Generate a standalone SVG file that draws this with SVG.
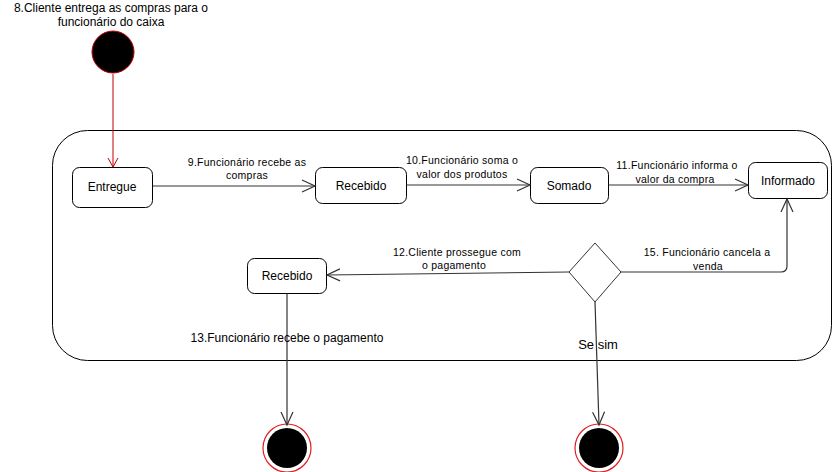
<svg xmlns="http://www.w3.org/2000/svg" width="833" height="472" viewBox="0 0 833 472">
<style>
  text { font-family: "Liberation Sans", Arial, sans-serif; fill: #000; }
  .title { font-size: 12px; text-anchor: middle; }
  .node rect { fill: #fff; stroke: #000; stroke-width: 1; }
  .node text { font-size: 12px; text-anchor: middle; dominant-baseline: central; }
  .lbl { font-size: 10.5px; letter-spacing: 0.25px; text-anchor: middle; }
  .edge { fill: none; stroke: #333; stroke-width: 1.2; }
  .edge-red { fill: none; stroke: #c00000; stroke-width: 1; }
  .start circle { fill: #000; stroke: #c00000; stroke-width: 1; }
  .end .ring { fill: #fff; stroke: #e02020; stroke-width: 1.2; }
  .end .dot { fill: #000; }
</style>
<defs>
  <marker id="arr" markerWidth="16" markerHeight="14" refX="14" refY="7" orient="auto" markerUnits="userSpaceOnUse">
    <path d="M1,1 L14,7 L1,13" fill="none" stroke="#333" stroke-width="1.2"/>
  </marker>
  <marker id="arrRed" markerWidth="12" markerHeight="12" refX="10" refY="6" orient="auto" markerUnits="userSpaceOnUse">
    <path d="M1,1 L10,6 L1,11" fill="none" stroke="#c00000" stroke-width="1"/>
  </marker>
</defs>
<rect width="833" height="472" fill="#fff"/>

<g id="container">
  <rect x="52.5" y="130.5" width="779" height="230" rx="35" ry="35" fill="none" stroke="#000" stroke-width="1"/>
</g>

<g id="start" class="start">
  <text class="title" x="111" y="12">8.Cliente entrega as compras para o</text>
  <text class="title" x="111" y="26">funcionário do caixa</text>
  <circle cx="113" cy="52" r="21"/>
</g>

<g id="n-entregue" class="node">
  <rect x="72.5" y="167.5" width="80" height="40" rx="7"/>
  <text x="112" y="187">Entregue</text>
</g>
<g id="n-recebido1" class="node">
  <rect x="315.5" y="167.5" width="91" height="36" rx="7"/>
  <text x="361" y="186">Recebido</text>
</g>
<g id="n-somado" class="node">
  <rect x="530.5" y="167.5" width="78" height="36" rx="7"/>
  <text x="569" y="186">Somado</text>
</g>
<g id="n-informado" class="node">
  <rect x="748.5" y="162.5" width="79" height="36" rx="7"/>
  <text x="788" y="181">Informado</text>
</g>
<g id="n-decision">
  <polygon points="595,243 621,272 595,302 569,272" fill="#fff" stroke="#333" stroke-width="1"/>
</g>
<g id="n-recebido2" class="node">
  <rect x="247.5" y="258.5" width="79" height="35" rx="7"/>
  <text x="287" y="276">Recebido</text>
</g>
<g id="end1" class="end">
  <circle class="ring" cx="287" cy="448" r="24"/>
  <circle class="dot" cx="287" cy="448" r="20"/>
</g>
<g id="end2" class="end">
  <circle class="ring" cx="599" cy="448" r="24"/>
  <circle class="dot" cx="599" cy="448" r="20"/>
</g>

<g id="connectors">
  <line class="edge-red" x1="113" y1="74" x2="113" y2="167" marker-end="url(#arrRed)"/>
  <line class="edge" x1="152.5" y1="186" x2="315" y2="186" marker-end="url(#arr)"/>
  <line class="edge" x1="406.5" y1="185" x2="530" y2="185" marker-end="url(#arr)"/>
  <line class="edge" x1="608.5" y1="185" x2="748" y2="185" marker-end="url(#arr)"/>
  <path class="edge" d="M621,272 L781,272 Q787,272 787,266 L787,199" marker-end="url(#arr)"/>
  <line class="edge" x1="569" y1="272" x2="327" y2="275" marker-end="url(#arr)"/>
  <line class="edge" x1="287" y1="293.5" x2="287" y2="425" marker-end="url(#arr)"/>
  <line class="edge" x1="595" y1="302" x2="599" y2="425" marker-end="url(#arr)"/>
</g>

<g id="labels">
  <text class="lbl" x="247" y="166">9.Funcionário recebe as</text>
  <text class="lbl" x="247" y="179">compras</text>
  <text class="lbl" x="462" y="164">10.Funcionário soma o</text>
  <text class="lbl" x="462" y="178">valor dos produtos</text>
  <text class="lbl" x="677" y="169">11.Funcionário informa o</text>
  <text class="lbl" x="675" y="183">valor da compra</text>
  <text class="lbl" x="707" y="256">15. Funcionário cancela a</text>
  <text class="lbl" x="708" y="270">venda</text>
  <text class="lbl" x="457" y="256">12.Cliente prossegue com</text>
  <text class="lbl" x="454" y="269">o pagamento</text>
  <text x="287" y="342" style="font-size:12px;text-anchor:middle">13.Funcionário recebe o pagamento</text>
  <text x="598" y="349" style="font-size:13px;text-anchor:middle">Se sim</text>
</g>
</svg>
